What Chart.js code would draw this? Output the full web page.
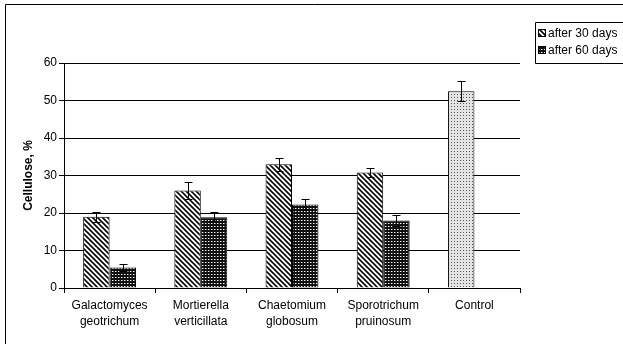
<!DOCTYPE html>
<html>
<head>
<meta charset="utf-8">
<script src="https://cdn.jsdelivr.net/npm/chart.js@4.4.0/dist/chart.umd.min.js"></script>
<style>
    html, body { margin: 0; padding: 0; background: #fff; }
    #wrap { width: 623px; height: 344px; }
</style>
</head>
<body>
<div id="wrap"><canvas id="celluloseChart" width="623" height="344"></canvas></div>
<script>
// Cellulose content after fungal treatment
const categories = [
    ['Galactomyces', 'geotrichum'],
    ['Mortierella', 'verticillata'],
    ['Chaetomium', 'globosum'],
    ['Sporotrichum', 'pruinosum'],
    'Control'
];
const after30 = [19, 26, 33, 30.8, 52.5];
const after30Err = [1.4, 2.2, 1.7, 1.2, 2.7];
const after60 = [5.5, 18.9, 22.3, 18, null];
const after60Err = [1.0, 1.4, 1.4, 1.5, null];
const yTicks = [0, 10, 20, 30, 40, 50, 60];
const seriesNames = ['after 30 days', 'after 60 days'];

const FONT = 'Liberation Sans, Arial, sans-serif';

function makePattern(size, draw) {
    const c = document.createElement('canvas');
    c.width = size; c.height = size;
    const g = c.getContext('2d');
    draw(g);
    return document.getElementById('celluloseChart').getContext('2d').createPattern(c, 'repeat');
}

// white with "\" stripes
const hatch = makePattern(5, g => {
    g.fillStyle = '#fff';
    g.fillRect(0, 0, 5, 5);
    g.strokeStyle = '#000';
    g.lineWidth = 1.6;
    g.beginPath();
    g.moveTo(-1, -1); g.lineTo(6, 6);
    g.moveTo(-1, 4); g.lineTo(1, 6);
    g.moveTo(4, -1); g.lineTo(6, 1);
    g.stroke();
});

// dark with white dots
const darkGrid = makePattern(3, g => {
    g.fillStyle = '#111';
    g.fillRect(0, 0, 3, 3);
    g.fillStyle = '#fff';
    g.fillRect(1, 1, 1, 1);
    g.fillStyle = '#777';
    g.fillRect(2, 1, 1, 1);
});

// light gray with dark dots
const lightDots = makePattern(3, g => {
    g.fillStyle = '#e4e4e4';
    g.fillRect(0, 0, 3, 3);
    g.fillStyle = '#555';
    g.fillRect(1, 1, 1, 1);
});

const errorBars = {
    id: 'errorBars',
    afterDatasetsDraw(chart) {
        const ctx = chart.ctx;
        const yScale = chart.scales.y;
        const errs = [after30Err, after60Err];
        ctx.save();
        ctx.strokeStyle = '#000';
        ctx.lineWidth = 1;
        chart.data.datasets.forEach((ds, di) => {
            const meta = chart.getDatasetMeta(di);
            meta.data.forEach((bar, i) => {
                const v = ds.data[i];
                const e = errs[di][i];
                if (v == null || e == null) return;
                const x = Math.round(bar.x) + 0.5;
                const top = Math.round(yScale.getPixelForValue(v + e)) + 0.5;
                const bot = Math.round(yScale.getPixelForValue(v - e)) + 0.5;
                ctx.beginPath();
                ctx.moveTo(x, top); ctx.lineTo(x, bot);
                ctx.moveTo(x - 4, top); ctx.lineTo(x + 4, top);
                ctx.moveTo(x - 4, bot); ctx.lineTo(x + 4, bot);
                ctx.stroke();
            });
        });
        ctx.restore();
    }
};

const frameAndLegend = {
    id: 'frameAndLegend',
    afterDraw(chart) {
        const ctx = chart.ctx;
        ctx.save();
        ctx.strokeStyle = '#000';
        ctx.lineWidth = 1;
        // outer frame (right/bottom edges lie outside the picture)
        ctx.beginPath();
        ctx.moveTo(5.5, 344); ctx.lineTo(5.5, 4.5); ctx.lineTo(623, 4.5);
        ctx.stroke();
        // legend box
        ctx.beginPath();
        ctx.moveTo(623, 22.5); ctx.lineTo(535.5, 22.5); ctx.lineTo(535.5, 63.5); ctx.lineTo(623, 63.5);
        ctx.stroke();
        const fills = [hatch, darkGrid];
        const rows = [33, 50];
        ctx.font = '12px ' + FONT;
        ctx.textBaseline = 'middle';
        ctx.fillStyle = '#000';
        seriesNames.forEach((name, i) => {
            const y = rows[i];
            ctx.fillStyle = fills[i];
            ctx.fillRect(538, y - 4, 8, 8);
            ctx.strokeRect(538.5, y - 3.5, 7, 7);
            ctx.fillStyle = '#000';
            ctx.fillText(name, 548, y + 1);
        });
        ctx.restore();
    }
};

new Chart(document.getElementById('celluloseChart'), {
    type: 'bar',
    data: {
        labels: categories,
        datasets: [{
            label: seriesNames[0],
            data: after30,
            backgroundColor: [hatch, hatch, hatch, hatch, lightDots],
            borderColor: '#000',
            borderWidth: 1
        }, {
            label: seriesNames[1],
            data: after60,
            backgroundColor: darkGrid,
            borderColor: '#000',
            borderWidth: 1
        }]
    },
    options: {
        responsive: false,
        animation: false,
        devicePixelRatio: 1,
        categoryPercentage: 0.58,
        barPercentage: 1.0,
        layout: { padding: { left: 0, top: 63, right: 103, bottom: 0 } },
        plugins: {
            legend: { display: false },
            tooltip: { enabled: false }
        },
        scales: {
            y: {
                min: 0,
                max: 60,
                afterBuildTicks: (s) => { s.ticks = yTicks.map(v => ({ value: v })); },
                afterFit: (s) => { s.width = 64; },
                grid: { color: '#000', lineWidth: 1, tickLength: 5 },
                border: { color: '#000' },
                ticks: { color: '#000', padding: 2, font: { family: FONT, size: 12 } },
                title: {
                    display: true,
                    text: 'Cellulose, %',
                    color: '#000',
                    padding: { top: 21, bottom: 0 },
                    font: { family: FONT, size: 12, weight: 'bold' }
                }
            },
            x: {
                afterFit: (s) => { s.height = 56; },
                grid: { display: true, drawOnChartArea: false, color: '#000', tickLength: 5 },
                border: { color: '#000' },
                ticks: {
                    color: '#000',
                    padding: 5,
                    maxRotation: 0,
                    autoSkip: false,
                    font: { family: FONT, size: 12, lineHeight: 1.3 }
                }
            }
        }
    },
    plugins: [errorBars, frameAndLegend]
});
</script>
</body>
</html>
